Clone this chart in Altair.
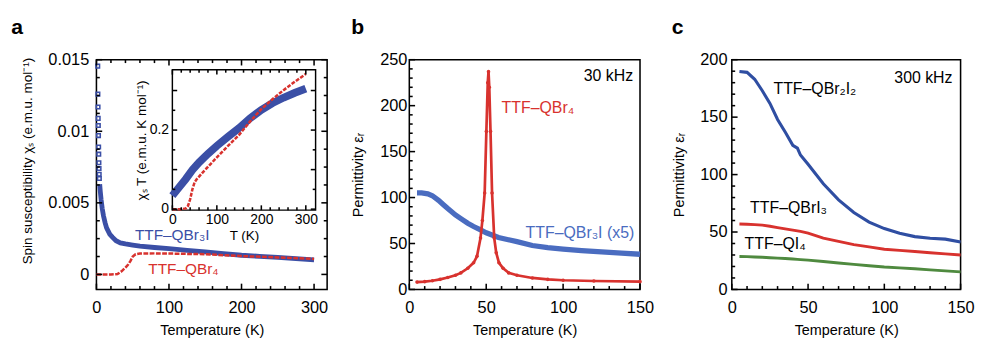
import altair as alt
import pandas as pd

FONT = "Liberation Sans"

# ---------------- data: panel a (main) ----------------
a_qbr3i_pts_T = [1.8, 2.0, 2.2, 2.4, 2.6, 2.8, 3.0, 3.2, 3.4, 3.6, 3.8, 4.0]
a_qbr3i_pts_chi = [0.01455, 0.0126, 0.0117, 0.0109, 0.0104, 0.0097, 0.0089, 0.0084, 0.0078, 0.0074, 0.0070, 0.0067]
a_qbr3i_T = [4.5, 5.3, 6.5, 8, 9.7, 12, 14, 18.5, 22, 27, 33, 40, 50, 60, 80, 100, 125, 150, 175, 200, 225,
             250, 275, 300]
a_qbr3i_chi = [0.0063, 0.0058, 0.0052, 0.0046, 0.0041, 0.0036, 0.00325, 0.0028, 0.0026, 0.00235, 0.0022,
               0.00213, 0.00205, 0.00198, 0.00188, 0.0018, 0.00168, 0.00157, 0.00145, 0.00134, 0.00126,
               0.00119, 0.0011, 0.00101]
a_qbr4_T = [0, 10, 20, 29, 35, 40, 43.5, 47, 50, 54, 60, 80, 100, 150, 200, 250, 300]
a_qbr4_chi = [0, 0, 0, 0.00002, 0.00023, 0.00048, 0.00067, 0.00095, 0.00124, 0.00141, 0.00146, 0.00147,
              0.00146, 0.00141, 0.00128, 0.00119, 0.00108]

# ---------------- data: panel a (inset, chi*T) ----------------
in_qbr3i_T = [0, 10, 20, 30, 45, 60, 80, 100, 125, 150, 175, 200, 225, 250, 275, 300]
in_qbr3i_chiT = [0.034, 0.048, 0.062, 0.076, 0.099, 0.118, 0.140, 0.160, 0.183, 0.205, 0.230, 0.251, 0.268,
                 0.282, 0.294, 0.305]
in_qbr4_T = [0, 10, 20, 30, 35, 40, 45, 50, 55, 70, 100, 125, 150, 175, 200, 225, 250, 275, 300]
in_qbr4_chiT = [0, 0, 0, 0.002, 0.008, 0.025, 0.05, 0.068, 0.076, 0.095, 0.131, 0.16, 0.188, 0.222, 0.253,
                0.278, 0.301, 0.322, 0.342]

# ---------------- data: panel b (30 kHz) ----------------
b_qbr4_T = [5, 10, 15, 20, 25, 30, 33.5, 38, 41.8, 44, 46.3, 47.5, 49, 50.1, 51, 51.5, 52, 52.8, 53.8, 55.2,
            56.5, 58.3, 61, 64.6, 70, 80, 90, 100, 120, 150]
b_qbr4_eps = [8, 8.5, 9.5, 11, 13, 15.5, 18, 23, 29, 36, 56, 75, 105, 172, 225, 237, 220, 172, 105, 56,
              40, 29, 23, 18, 15.5, 12.5, 11, 10, 9.2, 8.5]
b_qbr3i_T = [5, 8, 12, 15, 19, 22, 25, 30, 33.5, 38, 41.8, 46, 50, 58, 70, 80, 90, 100, 112, 125, 138, 150]
b_qbr3i_eps = [105, 105, 104, 102, 97, 92.5, 88, 81, 77, 72, 68.5, 65, 61.7, 56.5, 52, 47.8, 45.5, 44, 42.3,
               40.8, 39.5, 38.3]

# ---------------- data: panel c (300 kHz) ----------------
c_T = [5, 10, 15, 20, 25, 30, 35, 40, 43, 45, 50, 60, 70, 80, 90, 100, 110, 120, 130, 140, 150]
c_qbr2i2 = [189.7, 189, 183, 173, 162, 148, 137, 125.5, 123, 117, 109, 92, 78, 67, 58.6, 53, 49, 46, 44.6, 43.8, 41.3]
c_qbri3 = [57, 56.8, 56.4, 56, 55, 53.8, 52.7, 51.6, 51, 50.5, 49, 44.6, 41.8, 39, 37, 35, 34, 33, 32, 31, 30]
c_qi4 = [28.7, 28.6, 28.3, 28, 27.6, 27.3, 26.9, 26.5, 26.2, 26, 25.5, 24.3, 23, 21.8, 20.6, 19.5, 18.8, 18, 17, 16.2, 15.3]

# ---------------- tick positions ----------------
a_x_major = [0, 100, 200, 300]
a_x_minor = [v for v in range(20, 320, 20) if v % 100]
a_y_major = [0, 0.005, 0.01, 0.015]
a_y_minor = [0.00125, 0.0025, 0.00375, 0.00625, 0.0075, 0.00875, 0.01125, 0.0125, 0.01375]
in_y_major = [0, 0.1, 0.2, 0.3]
in_y_minor = [0.05, 0.15, 0.25]
bc_x_major = [0, 50, 100, 150]
bc_x_minor = [v for v in range(10, 150, 10) if v % 50]
b_y_major = [0, 50, 100, 150, 200, 250]
b_y_minor = [v for v in range(10, 250, 10) if v % 50]
c_y_major = [0, 50, 100, 150, 200]
c_y_minor = [v for v in range(10, 200, 10) if v % 50]

# ---------------- styling ----------------
BLUE_A = "#3b4fa6"
BLUE_B = "#4a6cc0"
BLUE_C = "#2f4ea2"
RED = "#d8322e"
GREEN = "#4f8a3f"
H = 239
W_A, W_B, W_C = 240, 240, 238
MAJ, MIN, TW = 6, 3.5, 1.6
LAB = 17
TIT = 15
ANN = 16.5


def df(x, y):
    return pd.DataFrame({"x": x, "y": y})


def tick_rects(X, Y, xdom, ydom, W, Hh, xmaj, xmin, ymaj, ymin, sides, maj=MAJ, mn=MIN):
    """inward frame ticks drawn as thin rects through the panel's scales (pixel sizes -> data units)"""
    ux = (xdom[1] - xdom[0]) / W
    uy = (ydom[1] - ydom[0]) / Hh
    hx, hy = TW / 2 * ux, TW / 2 * uy
    rows = []
    for vals, L in ((xmaj, maj), (xmin, mn)):
        for v in vals:
            if "bottom" in sides:
                rows.append((v - hx, v + hx, ydom[0], ydom[0] + L * uy))
            if "top" in sides:
                rows.append((v - hx, v + hx, ydom[1] - L * uy, ydom[1]))
    for vals, L in ((ymaj, maj), (ymin, mn)):
        for v in vals:
            if "left" in sides:
                rows.append((xdom[0], xdom[0] + L * ux, v - hy, v + hy))
            if "right" in sides:
                rows.append((xdom[1] - L * ux, xdom[1], v - hy, v + hy))
    d = pd.DataFrame(rows, columns=["x", "x2", "y", "y2"])
    return alt.Chart(d).mark_rect(color="black", opacity=1).encode(x=X, x2="x2:Q", y=Y, y2="y2:Q")


def label(text, x, y, color, align="left", size=ANN):
    return alt.Chart(pd.DataFrame({"x": [x], "y": [y], "t": [text]})).mark_text(
        align=align, baseline="middle", font=FONT, fontSize=size, color=color).encode(text="t:N")


def panel_title(t, dx=0):
    return alt.TitleParams(t, anchor="start", frame="bounds", fontSize=22, fontWeight="bold",
                           font=FONT, color="black", offset=13, dx=dx)


# ================= panel a =================
XD_A, YD_A = [0, 318], [-0.00105, 0.015]
xs_a = alt.Scale(domain=XD_A, nice=False, zero=False)
ys_a = alt.Scale(domain=YD_A, nice=False, zero=False)
ax_a = alt.Axis(values=a_x_major, title="Temperature (K)", orient="bottom", ticks=False)
ay_a = alt.Axis(values=a_y_major, format=".3~f", orient="left", ticks=False, labelPadding=8,
                title="Spin susceptibility χₛ (e.m.u. mol⁻¹)", titlePadding=14, titleFontSize=14, titleY=105)
XA = alt.X("x:Q", scale=xs_a, axis=ax_a)
YA = alt.Y("y:Q", scale=ys_a, axis=ay_a)

main_a = alt.layer(
    alt.Chart(df(a_qbr3i_T, a_qbr3i_chi)).mark_line(color=BLUE_A, strokeWidth=5).encode(x=XA, y=YA),
    alt.Chart(df(a_qbr3i_pts_T, a_qbr3i_pts_chi)).mark_point(
        shape="square", color=BLUE_A, size=14, strokeWidth=1.6, filled=False, opacity=1).encode(x=XA, y=YA),
    alt.Chart(df(a_qbr4_T, a_qbr4_chi)).mark_line(color=RED, strokeWidth=2.6, strokeDash=[5, 1.5]).encode(x=XA, y=YA),
    label("TTF–QBr₃I", 53, 0.00272, BLUE_A, size=16).encode(x=XA, y=YA),
    label("TTF–QBr₄", 71.5, 0.00034, RED, size=16).encode(x=XA, y=YA),
    tick_rects(XA, YA, XD_A, YD_A, W_A, H, a_x_major, a_x_minor, a_y_major, a_y_minor,
               ("left", "right", "top", "bottom")),
)

# inset
IX0, IX1, IY0, IY1 = 79, 228, 10.5, 156.5
XD_I, YD_I = [0, 322], [-0.0025, 0.3524]
xs_i = alt.Scale(domain=XD_I, range=[IX0, IX1], nice=False, zero=False)
ys_i = alt.Scale(domain=YD_I, range=[IY1, IY0], nice=False, zero=False)
ax_i = alt.Axis(values=a_x_major, title="T (K)", orient="bottom", offset=-(H - IY1), ticks=False,
                labelFontSize=14.5, titleFontSize=14, labelPadding=3, titlePadding=3)
ay_i = alt.Axis(values=[0, 0.2], format=".1~f", title="χₛ T (e.m.u. K mol⁻¹)", orient="left", offset=-IX0,
                ticks=False, labelFontSize=14.5, titleFontSize=14, labelPadding=4, titlePadding=1)
XI = alt.X("x:Q", scale=xs_i, axis=ax_i)
YI = alt.Y("y:Q", scale=ys_i, axis=ay_i)

inset_a = alt.layer(
    alt.Chart(pd.DataFrame({"x": [XD_I[0]], "x2": [XD_I[1]], "y": [YD_I[0]], "y2": [YD_I[1]]})).mark_rect(
        fill="white", fillOpacity=0, stroke="black", strokeWidth=1.5).encode(
        x=XI, x2="x2:Q", y=YI, y2="y2:Q"),
    alt.Chart(df(in_qbr3i_T, in_qbr3i_chiT)).mark_line(color=BLUE_A, strokeWidth=8).encode(x=XI, y=YI),
    alt.Chart(df(in_qbr4_T, in_qbr4_chiT)).mark_line(color=RED, strokeWidth=2.6, strokeDash=[4, 1.5]).encode(x=XI, y=YI),
    tick_rects(XI, YI, XD_I, YD_I, IX1 - IX0, IY1 - IY0, a_x_major, a_x_minor, in_y_major, in_y_minor,
               ("left", "right", "top", "bottom"), maj=5, mn=3),
)

panel_a = alt.layer(main_a, inset_a).resolve_scale(x="independent", y="independent").properties(
    width=W_A, height=H, title=panel_title("a", dx=-10))

# ================= panel b =================
XD_B, YD_B = [0, 150], [0, 250]
xs_b = alt.Scale(domain=XD_B, nice=False, zero=False)
ys_b = alt.Scale(domain=YD_B, nice=False, zero=False)
ax_b = alt.Axis(values=bc_x_major, title="Temperature (K)", orient="bottom", ticks=False)
ay_b = alt.Axis(values=b_y_major, title="Permittivity εᵣ", orient="left", ticks=False,
                labelPadding=2.5, titlePadding=14.5)
XB = alt.X("x:Q", scale=xs_b, axis=ax_b)
YB = alt.Y("y:Q", scale=ys_b, axis=ay_b)
panel_b = alt.layer(
    alt.Chart(df(b_qbr3i_T, b_qbr3i_eps)).mark_line(color=BLUE_B, strokeWidth=5.5).encode(x=XB, y=YB),
    alt.Chart(df(b_qbr4_T, b_qbr4_eps)).mark_line(color=RED, strokeWidth=2.8).encode(x=XB, y=YB),
    alt.Chart(df(b_qbr4_T, b_qbr4_eps)).mark_circle(color=RED, size=14, opacity=1).encode(x=XB, y=YB),
    label("30 kHz", 145.5, 232, "black", align="right").encode(x=XB, y=YB),
    label("TTF–QBr₄", 60, 197, RED).encode(x=XB, y=YB),
    label("TTF–QBr₃I (x5)", 75.6, 60.7, BLUE_B).encode(x=XB, y=YB),
    tick_rects(XB, YB, XD_B, YD_B, W_B, H, bc_x_major, bc_x_minor, b_y_major, b_y_minor, ("left", "bottom")),
).properties(width=W_B, height=H, title=panel_title("b"))

# ================= panel c =================
XD_C, YD_C = [0, 150], [0, 200]
xs_c = alt.Scale(domain=XD_C, nice=False, zero=False)
ys_c = alt.Scale(domain=YD_C, nice=False, zero=False)
ax_c = alt.Axis(values=bc_x_major, title="Temperature (K)", orient="bottom", ticks=False)
ay_c = alt.Axis(values=c_y_major, title="Permittivity εᵣ", orient="left", ticks=False,
                labelPadding=5, titlePadding=14)
XC = alt.X("x:Q", scale=xs_c, axis=ax_c)
YC = alt.Y("y:Q", scale=ys_c, axis=ay_c)
panel_c = alt.layer(
    alt.Chart(df(c_T, c_qi4)).mark_line(color=GREEN, strokeWidth=3).encode(x=XC, y=YC),
    alt.Chart(df(c_T, c_qbri3)).mark_line(color=RED, strokeWidth=3).encode(x=XC, y=YC),
    alt.Chart(df(c_T, c_qbr2i2)).mark_line(color=BLUE_C, strokeWidth=3.2).encode(x=XC, y=YC),
    label("300 kHz", 144.7, 184, "black", align="right").encode(x=XC, y=YC),
    label("TTF–QBr₂I₂", 27.3, 174.7, "black").encode(x=XC, y=YC),
    label("TTF–QBrI₃", 12, 71, "black").encode(x=XC, y=YC),
    label("TTF–QI₄", 8.4, 39, "black").encode(x=XC, y=YC),
    tick_rects(XC, YC, XD_C, YD_C, W_C, H, bc_x_major, bc_x_minor, c_y_major, c_y_minor, ("left", "bottom")),
).properties(width=W_C, height=H, title=panel_title("c"))

chart = alt.hconcat(alt.hconcat(panel_a, panel_b, spacing=21.5), panel_c, spacing=16).properties(
    padding={"left": 2, "top": 1, "right": 0, "bottom": 0}
).configure_view(stroke="black", strokeWidth=1.6).configure_axis(
    labelFont=FONT, titleFont=FONT, labelFontSize=LAB, titleFontSize=TIT, titleFontWeight="normal",
    labelColor="black", titleColor="black", grid=False, domain=False,
    labelPadding=11.5, titlePadding=7, labelFlush=False
)

chart.save("out.html", embed_options={"renderer": "svg", "actions": False})
